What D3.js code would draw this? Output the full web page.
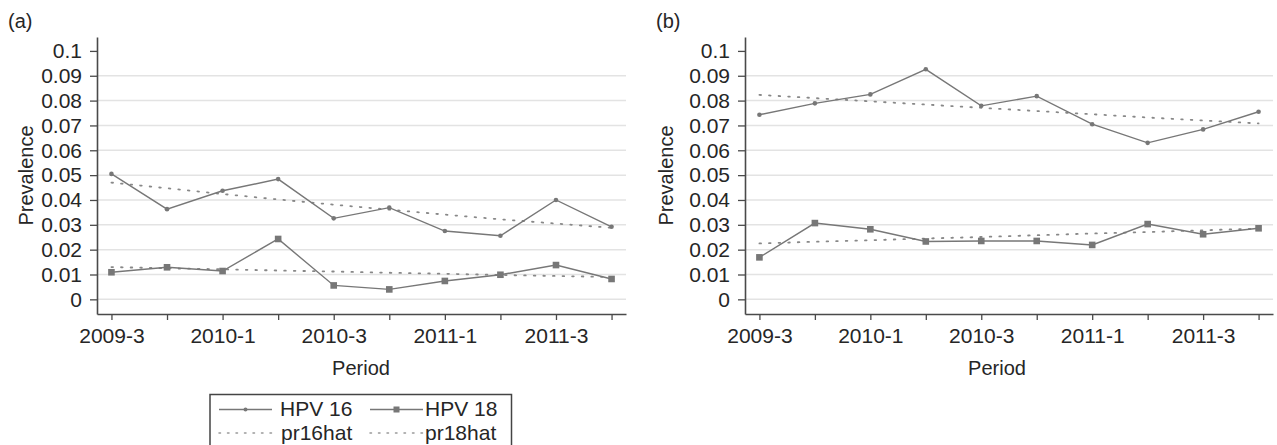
<!DOCTYPE html>
<html><head><meta charset="utf-8">
<script src="https://cdn.jsdelivr.net/npm/d3@7/dist/d3.min.js"></script>
<style>
body{margin:0;background:#fff;}
svg{display:block;font-family:"Liberation Sans",Arial,Helvetica,sans-serif;}
</style></head>
<body><svg id="c" width="1277" height="445"></svg>
<script>
const periods = ["2009-3","2009-4","2010-1","2010-2","2010-3","2010-4","2011-1","2011-2","2011-3","2011-4"];
const yTicks = [0,0.01,0.02,0.03,0.04,0.05,0.06,0.07,0.08,0.09,0.1];
// Panel (a)
const hpv16_a = [0.0505,0.0363,0.0437,0.0484,0.0326,0.0369,0.0275,0.0256,0.0400,0.0292];
const hpv18_a = [0.0109,0.0129,0.0114,0.0243,0.0056,0.0040,0.0074,0.0099,0.0138,0.0082];
const pr16hat_a = [0.0470,0.0447,0.0424,0.0402,0.0381,0.0361,0.0341,0.0322,0.0305,0.0288];
const pr18hat_a = [0.0130,0.0125,0.0121,0.0116,0.0112,0.0107,0.0103,0.0098,0.0094,0.0090];
// Panel (b)
const hpv16_b = [0.0743,0.0789,0.0825,0.0926,0.0779,0.0818,0.0705,0.0630,0.0684,0.0755];
const hpv18_b = [0.0169,0.0307,0.0282,0.0233,0.0235,0.0235,0.0219,0.0303,0.0262,0.0286];
const pr16hat_b = [0.0823,0.0810,0.0797,0.0784,0.0771,0.0758,0.0745,0.0732,0.0720,0.0708];
const pr18hat_b = [0.0225,0.0232,0.0238,0.0245,0.0251,0.0258,0.0265,0.0271,0.0278,0.0285];

const svg = d3.select("#c");
const TXT = "#262626", AX = "#4a4a4a", LN = "#777", GRID = "#e3e3e3";
const plotTop = 37, plotBottom = 314;

function panel(cfg){
  const x = d3.scaleLinear().domain([-0.26, periods.length - 1 + 0.26]).range([cfg.x0, cfg.x1]);
  const y = d3.scaleLinear().domain([-0.0059, 0.1056]).range([plotBottom, plotTop]);
  const g = svg.append("g");
  // gridlines
  g.selectAll("line.grid").data(yTicks.filter(v => v < 0.0999)).enter().append("line")
    .attr("x1", cfg.x0).attr("x2", cfg.x1)
    .attr("y1", d => y(d)).attr("y2", d => y(d))
    .attr("stroke", GRID).attr("stroke-width", 1.5);
  // y axis
  const ya = g.append("g").attr("transform", `translate(${cfg.x0},0)`)
    .call(d3.axisLeft(y).tickValues(yTicks).tickFormat(d => d === 0 ? "0" : String(+d.toFixed(2))).tickSize(7).tickSizeOuter(0).tickPadding(8));
  // x axis
  const xa = g.append("g").attr("transform", `translate(0,${plotBottom})`)
    .call(d3.axisBottom(x).tickValues(d3.range(periods.length)).tickFormat(i => i % 2 === 0 ? periods[i] : "").tickSize(6).tickSizeOuter(0).tickPadding(8));
  [ya, xa].forEach(a => {
    a.select(".domain").attr("stroke", AX).attr("stroke-width", 1.6);
    a.selectAll(".tick line").attr("stroke", AX).attr("stroke-width", 1.3);
    a.selectAll("text").attr("fill", TXT).attr("font-size", 21).attr("font-family", null);
  });
  // fitted lines (dotted)
  const line = d3.line().x((d, i) => x(i)).y(d => y(d));
  [cfg.p16, cfg.p18].forEach(s => {
    g.append("path").attr("d", line(s)).attr("fill", "none")
      .attr("stroke", "#888").attr("stroke-width", 1.8)
      .attr("stroke-dasharray", "1.6,8").attr("stroke-linecap", "round");
  });
  // observed lines
  [cfg.h16, cfg.h18].forEach(s => {
    g.append("path").attr("d", line(s)).attr("fill", "none")
      .attr("stroke", LN).attr("stroke-width", 1.4);
  });
  g.selectAll("circle.m16").data(cfg.h16).enter().append("circle")
    .attr("cx", (d, i) => x(i)).attr("cy", d => y(d)).attr("r", 2.3).attr("fill", LN);
  g.selectAll("rect.m18").data(cfg.h18).enter().append("rect")
    .attr("x", (d, i) => x(i) - 3.3).attr("y", d => y(d) - 3.3)
    .attr("width", 6.6).attr("height", 6.6).attr("fill", LN);
  // labels
  g.append("text").attr("x", cfg.labelX).attr("y", 28).attr("font-size", 20).attr("fill", TXT).text(cfg.label);
  g.append("text").attr("transform", `translate(${cfg.ytitleX},${(plotTop + plotBottom) / 2}) rotate(-90)`)
    .attr("text-anchor", "middle").attr("font-size", 20).attr("fill", TXT).text("Prevalence");
  g.append("text").attr("x", cfg.xtitleX).attr("y", 375).attr("text-anchor", "middle")
    .attr("font-size", 20).attr("fill", TXT).text("Period");
}

panel({x0: 97, x1: 626, h16: hpv16_a, h18: hpv18_a, p16: pr16hat_a, p18: pr18hat_a,
  label: "(a)", labelX: 8, ytitleX: 33, xtitleX: 361});
panel({x0: 745, x1: 1273, h16: hpv16_b, h18: hpv18_b, p16: pr16hat_b, p18: pr18hat_b,
  label: "(b)", labelX: 656, ytitleX: 673, xtitleX: 997});

// legend
const lg = svg.append("g");
lg.append("rect").attr("x", 210).attr("y", 394.5).attr("width", 301.5).attr("height", 60)
  .attr("fill", "none").attr("stroke", "#444").attr("stroke-width", 1.5);
const items = [
  {name: "HPV 16", x: 219, y: 409.5, ty: 416, type: "dot", tx: 61},
  {name: "HPV 18", x: 370, y: 409.5, ty: 416, type: "sq", tx: 55},
  {name: "pr16hat", x: 219, y: 433, ty: 439.5, type: "dotted", tx: 62},
  {name: "pr18hat", x: 370, y: 433, ty: 439.5, type: "dotted", tx: 55}
];
items.forEach(it => {
  const w = it.type === "dotted" ? 54 : 53;
  const l = lg.append("line").attr("x1", it.x).attr("x2", it.x + w).attr("y1", it.y).attr("y2", it.y);
  if (it.type === "dotted") {
    l.attr("stroke", "#999").attr("stroke-width", 1.5).attr("stroke-dasharray", "1.5,7").attr("stroke-linecap", "round");
  } else {
    l.attr("stroke", LN).attr("stroke-width", 1.4);
  }
  if (it.type === "dot") lg.append("circle").attr("cx", it.x + w / 2).attr("cy", it.y).attr("r", 2).attr("fill", LN);
  if (it.type === "sq") lg.append("rect").attr("x", it.x + w / 2 - 3).attr("y", it.y - 3).attr("width", 6).attr("height", 6).attr("fill", LN);
  lg.append("text").attr("x", it.x + it.tx).attr("y", it.ty).attr("font-size", 21).attr("fill", TXT).text(it.name);
});
</script></body></html>
